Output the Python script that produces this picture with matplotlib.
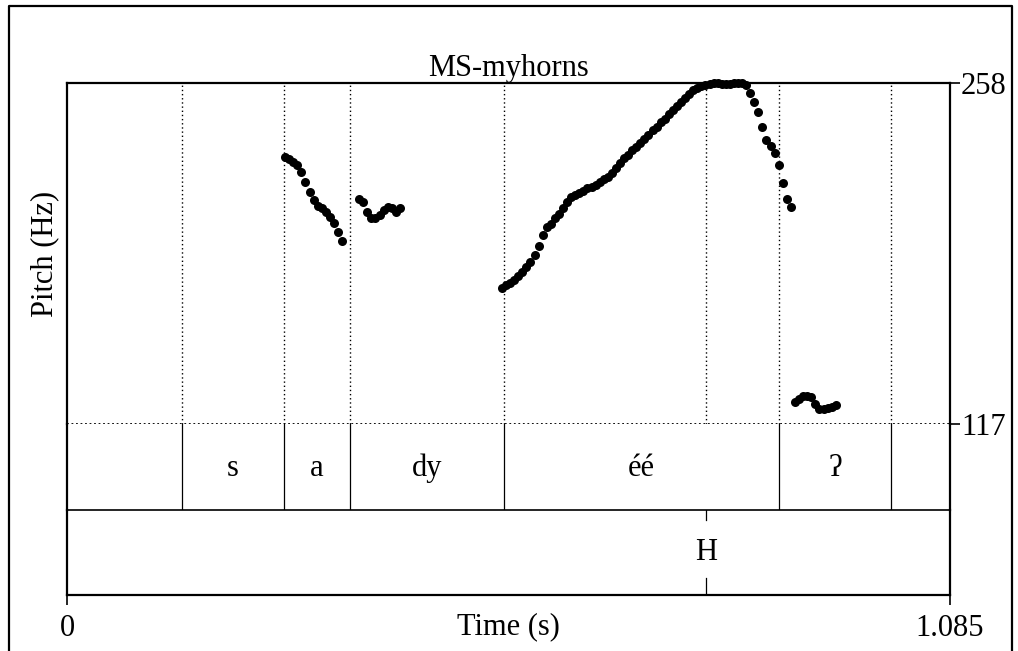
import matplotlib
matplotlib.use("Agg")
import matplotlib.pyplot as plt
from matplotlib.lines import Line2D

plt.rcParams['font.family'] = ['Liberation Serif', 'DejaVu Serif']

W, H = 1018, 651
t_max = 1.085
f_min, f_max = 117, 258

# pitch track (s, Hz), one list per voiced stretch
t1 = [0.268, 0.273, 0.278, 0.283, 0.288, 0.293, 0.298, 0.303, 0.308, 0.313,
      0.318, 0.323, 0.328, 0.333, 0.338]
f1 = [227.5, 226.5, 225.5, 224.1, 221.3, 217.2, 213.1, 209.6, 207.3, 206.2,
      204.8, 202.7, 200.0, 196.5, 192.8]

t2 = [0.359, 0.364, 0.369, 0.374, 0.379, 0.384, 0.389, 0.394, 0.399, 0.404, 0.409]
f2 = [209.9, 208.9, 204.8, 202.1, 202.1, 203.4, 205.5, 206.9, 206.2, 204.8, 206.2]

t3 = [0.5345, 0.5395, 0.5445, 0.5495, 0.5545, 0.5595, 0.5645, 0.5695, 0.5745, 0.5795,
      0.5845, 0.5895, 0.5945, 0.5995, 0.6045, 0.6095, 0.6145, 0.6195, 0.6245, 0.6295,
      0.6345, 0.6395, 0.6445, 0.6495, 0.6545, 0.6595, 0.6645, 0.6695, 0.6745, 0.6795,
      0.6845, 0.6895, 0.6945, 0.6995, 0.7045, 0.7095, 0.7145, 0.7195, 0.7245, 0.7295,
      0.7345, 0.7395, 0.7445, 0.7495, 0.7545, 0.7595, 0.7645, 0.7695, 0.7745, 0.7795,
      0.7845, 0.7895, 0.7945, 0.7995, 0.8045, 0.8095, 0.8145, 0.8195, 0.8245, 0.8295,
      0.8345, 0.8395, 0.8445, 0.8495, 0.8545, 0.8595, 0.8645, 0.8695, 0.8745, 0.8795,
      0.8845, 0.8895]
f3 = [173.2, 174.3, 175.4, 176.7, 178.2, 179.8, 181.9, 184.0, 186.7, 190.8,
      195.1, 198.3, 199.9, 202.0, 204.0, 206.5, 209.0, 210.7, 211.7, 212.5,
      213.5, 214.4, 215.2, 216.0, 217.1, 218.1, 219.3, 220.8, 222.9, 224.9,
      226.8, 228.4, 230.1, 231.5, 233.0, 234.8, 236.7, 238.4, 240.0, 241.7,
      243.3, 245.0, 246.8, 248.5, 250.1, 252.0, 253.5, 254.9, 255.9, 256.8,
      257.2, 257.6, 257.8, 257.8, 257.6, 257.6, 257.7, 257.9, 258.0, 258.1,
      257.0, 253.9, 250.0, 246.0, 240.0, 234.4, 231.9, 229.1, 224.1, 216.6,
      210.0, 206.9]

t4 = [0.8946, 0.8996, 0.9046, 0.9096, 0.9146, 0.9196, 0.9246, 0.9296, 0.9346,
      0.9396, 0.9446]
f4 = [126.1, 127.5, 128.4, 128.6, 128.0, 125.3, 123.4, 123.2, 123.6, 124.2, 124.9]

# tier 1: interval boundaries and labels
bounds = [0.1413, 0.2667, 0.3478, 0.537, 0.875, 1.0125]
labels = ['s', 'a', 'dy', 'éé', 'ʔ']
# tier 2: point tier
h_time = 0.785
h_label = 'H'

fig = plt.figure(figsize=(W / 100, H / 100), dpi=100)


def fx(px):
    return px / W


def fy(py):
    return 1 - py / H


left, right = 67, 950
top, y117, y_t1, y_t2 = 83, 424, 510, 595
fs = 22

ax_p = fig.add_axes([fx(left), fy(y117), fx(right - left), (y117 - top) / H])
ax_1 = fig.add_axes([fx(left), fy(y_t1), fx(right - left), (y_t1 - y117) / H])
ax_2 = fig.add_axes([fx(left), fy(y_t2), fx(right - left), (y_t2 - y_t1) / H])

for a in (ax_p, ax_1, ax_2):
    a.set_xlim(0, t_max)
    a.patch.set_alpha(0)
    for s in a.spines.values():
        s.set_linewidth(1.6)

# pitch panel
ax_p.set_ylim(f_min, f_max)
for tt, ff in ((t1, f1), (t2, f2), (t3, f3), (t4, f4)):
    ax_p.plot(tt, ff, 'o', color='black', ms=6.5, mew=0, clip_on=False)
for b in bounds + [h_time]:
    ax_p.axvline(b, color='black', lw=1, ls=(0, (1, 2)))
ax_p.axhline(f_min, color='black', lw=1.3, ls=(0, (1, 1.5)))
ax_p.spines['bottom'].set_visible(False)
ax_p.set_xticks([])
ax_p.yaxis.tick_right()
ax_p.set_yticks([f_min, f_max])
ax_p.set_yticklabels([str(f_min), str(f_max)], fontsize=fs)
ax_p.tick_params(axis='y', length=7, width=1.2, pad=1)
ax_p.set_title('MS-myhorns', fontsize=fs, pad=4)

# interval tier
ax_1.set_ylim(0, 1)
ax_1.set_xticks([])
ax_1.set_yticks([])
ax_1.spines['top'].set_visible(False)
ax_1.spines['bottom'].set_linewidth(1.2)
for b in bounds:
    ax_1.axvline(b, color='black', lw=0.9)
edges = bounds
for i, lab in enumerate(labels):
    ax_1.text((edges[i] + edges[i + 1]) / 2, 0.48, lab, fontsize=fs,
              ha='center', va='center')

# point tier
ax_2.set_ylim(0, 1)
ax_2.set_yticks([])
ax_2.spines['top'].set_visible(False)
ax_2.plot([h_time, h_time], [1, 0.88], color='black', lw=0.9)
ax_2.plot([h_time, h_time], [0, 0.2], color='black', lw=0.9)
ax_2.text(h_time, 0.5, h_label, fontsize=fs, ha='center', va='center')
ax_2.set_xticks([0, t_max])
ax_2.set_xticklabels(['0', '1.085'], fontsize=fs)
ax_2.tick_params(axis='x', length=7, width=1.2, pad=7)

fig.text(fx((left + right) / 2), fy(627), 'Time (s)', fontsize=fs,
         ha='center', va='center')
fig.text(fx(45), fy((top + y117) / 2), 'Pitch (Hz)', fontsize=fs,
         ha='center', va='center', rotation=90)

# outer picture border
fig.add_artist(Line2D([fx(9), fx(9), fx(1012), fx(1012)],
                      [-0.05, fy(6), fy(6), -0.05], color='black', lw=1.6,
                      transform=fig.transFigure))

fig.savefig('out.png', dpi=100)
